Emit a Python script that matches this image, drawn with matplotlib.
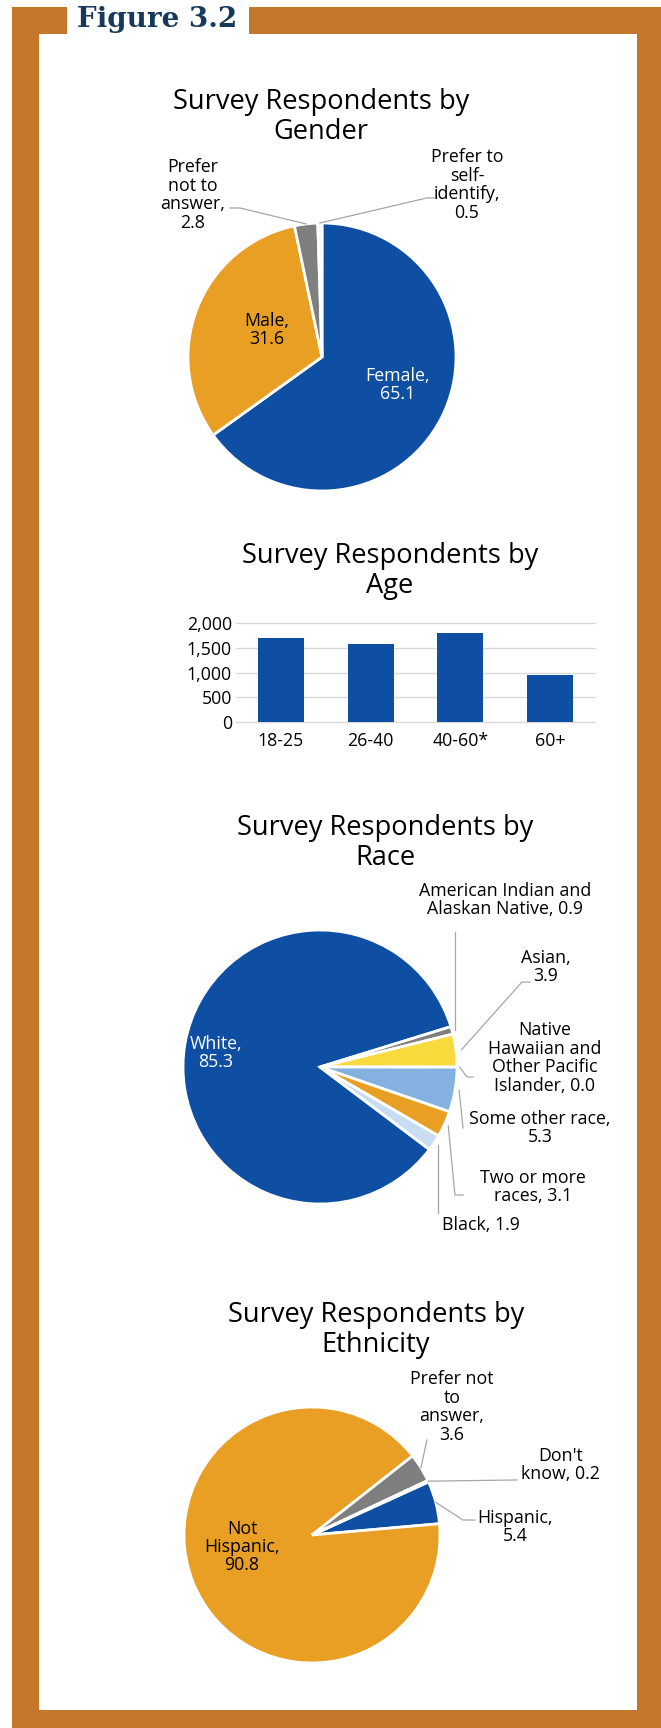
import numpy as np
import matplotlib.pyplot as plt
from matplotlib.patches import Rectangle
from matplotlib.ticker import StrMethodFormatter

plt.rcParams['font.family'] = ['Open Sans', 'DejaVu Sans']

# survey data
gender_names = ['Female', 'Male', 'Prefer not to answer', 'Prefer to self-identify']
gender_pct = [65.1, 31.6, 2.8, 0.5]

age_groups = ['18-25', '26-40', '40-60*', '60+']
age_counts = [1700, 1570, 1790, 945]
age_ticks = [0, 500, 1000, 1500, 2000]

race_names = ['White', 'American Indian and Alaskan Native', 'Asian',
              'Native Hawaiian and Other Pacific Islander', 'Some other race',
              'Two or more races', 'Black']
race_pct = [85.3, 0.9, 3.9, 0.0, 5.3, 3.1, 1.9]

eth_names = ['Hispanic', 'Not Hispanic', 'Prefer not to answer', "Don't know"]
eth_pct = [5.4, 90.8, 3.6, 0.2]

# how each label wraps
gender_fmt = ['Female,\n{}', 'Male,\n{}', 'Prefer\nnot to\nanswer,\n{}', 'Prefer to\nself-\nidentify,\n{}']
race_fmt = ['White,\n{}', 'American Indian and\nAlaskan Native, {}', 'Asian,\n{}',
            'Native\nHawaiian and\nOther Pacific\nIslander, {}', 'Some other race,\n{}',
            'Two or more\nraces, {}', 'Black, {}']
eth_fmt = ['Hispanic,\n{}', 'Not\nHispanic,\n{}', 'Prefer not\nto\nanswer,\n{}', "Don't\nknow, {}"]

BLUE = '#0f4fa3'
ORANGE = '#e89f23'
GRAY = '#7f7f7f'
YELLOW = '#f9da3c'
LIGHTBLUE = '#84b1df'
PALEBLUE = '#c8ddf1'
FRAME = '#c47629'
NAVY = '#16395c'
LEADER = '#a6a6a6'
LABEL = 12.8
TITLE = 19.6

W, H = 661, 1728
fig = plt.figure(figsize=(W / 100, H / 100), dpi=100)


def box(left, top, w, h):
    return [left / W, 1 - (top + h) / H, w / W, h / H]


# frame and heading
bg = fig.add_axes([0, 0, 1, 1])
bg.set_xlim(0, W)
bg.set_ylim(H, 0)
bg.axis('off')
bg.add_patch(Rectangle((12, 7), W - 12, H - 7, color=FRAME, lw=0))
bg.add_patch(Rectangle((39, 34), 637 - 39, 1710 - 34, color='white', lw=0))
bg.add_patch(Rectangle((67, 0), 249 - 67, 34, color='white', lw=0))
bg.text(77, 27, 'Figure 3.2', ha='left', va='baseline', color=NAVY,
        family='DejaVu Serif', weight='bold', fontsize=20)

for x, y, what in [(321, 117, 'Gender'), (390, 571, 'Age'),
                   (385, 843, 'Race'), (376, 1330, 'Ethnicity')]:
    bg.text(x, y, 'Survey Respondents by\n' + what, ha='center', va='center',
            fontsize=TITLE, linespacing=1.05, color='black')


def pie_chart(cx, cy, r, pct, colors, start, fmts, layout):
    ax = fig.add_axes(box(cx - r, cy - r, 2 * r, 2 * r))
    wedges, _ = ax.pie(pct, colors=colors, startangle=start, counterclock=False,
                       wedgeprops=dict(edgecolor='white', linewidth=2))
    ax.set_xlim(-1, 1)
    ax.set_ylim(-1, 1)
    for w, v, fmt, spec in zip(wedges, pct, fmts, layout):
        tx, ty = spec['text']
        ax.text(tx, ty, fmt.format(f'{v:.1f}'), ha=spec.get('ha', 'center'), va='center',
                color=spec.get('color', 'black'), fontsize=LABEL, linespacing=1.03)
        if 'leader' in spec:
            a = np.deg2rad((w.theta1 + w.theta2) / 2)
            r0 = spec.get('r0', 1.0)
            x0, y0 = r0 * np.cos(a), r0 * np.sin(a)
            xs, ys = [x0], [y0]
            for px, py in spec['leader']:
                xs.append(x0 if px is None else px)
                ys.append(py)
            ax.plot(xs, ys, color=LEADER, lw=0.9, clip_on=False)
    return ax


pie_chart(322, 357, 134, gender_pct, [BLUE, ORANGE, GRAY, '#f4f4f4'], 90, gender_fmt, [
    dict(text=(0.567, -0.209), color='white'),
    dict(text=(-0.41, 0.2)),
    dict(text=(-0.963, 1.209), leader=[(-0.612, 1.112), (-0.687, 1.112)]),
    dict(text=(1.082, 1.284), leader=[(0.784, 1.187), (0.843, 1.187)]),
])

# bar chart of ages
ax = fig.add_axes(box(236, 623, 595 - 236, 722 - 623))
ax.set_facecolor('none')
ax.bar(age_groups, age_counts, width=0.51, color=BLUE, zorder=3)
ax.set_xlim(-0.5, 3.5)
ax.set_ylim(0, 2000)
ax.set_yticks(age_ticks)
ax.yaxis.set_major_formatter(StrMethodFormatter('{x:,.0f}'))
ax.grid(axis='y', color='#d9d9d9', lw=1)
ax.set_axisbelow(True)
for gl in ax.get_ygridlines():
    gl.set_clip_on(False)
for s in ax.spines.values():
    s.set_visible(False)
ax.tick_params(axis='both', length=0, labelsize=LABEL)
ax.tick_params(axis='y', pad=3)
ax.tick_params(axis='x', pad=7)

pie_chart(320, 1067, 137, race_pct,
          [BLUE, GRAY, YELLOW, '#5b9bd5', LIGHTBLUE, ORANGE, PALEBLUE], 323, race_fmt, [
    dict(text=(-0.759, 0.102), color='white'),
    dict(text=(1.350, 1.219), r0=1.02, leader=[(None, 0.985)]),
    dict(text=(1.65, 0.73), r0=1.04, leader=[(1.474, 0.620), (1.533, 0.620)]),
    dict(text=(1.642, 0.066), r0=1.02, leader=[(1.073, -0.073), (1.117, -0.073)]),
    dict(text=(1.606, -0.445), r0=1.03, leader=[(1.044, -0.445)]),
    dict(text=(1.555, -0.876), r0=1.03, leader=[(0.985, -0.934), (1.044, -0.934)]),
    dict(text=(0.891, -1.153), ha='left', r0=1.03, leader=[(None, -1.066)]),
])

pie_chart(312, 1535, 128, eth_pct, [BLUE, ORANGE, GRAY, YELLOW], 24.5, eth_fmt, [
    dict(text=(1.586, 0.063), leader=[(1.18, 0.117), (1.273, 0.117)]),
    dict(text=(-0.547, -0.094)),
    dict(text=(1.094, 1.0), leader=[(0.898, 0.742)]),
    dict(text=(1.94, 0.547), leader=[(1.6, 0.43)]),
])

fig.savefig('out.png', dpi=100)
